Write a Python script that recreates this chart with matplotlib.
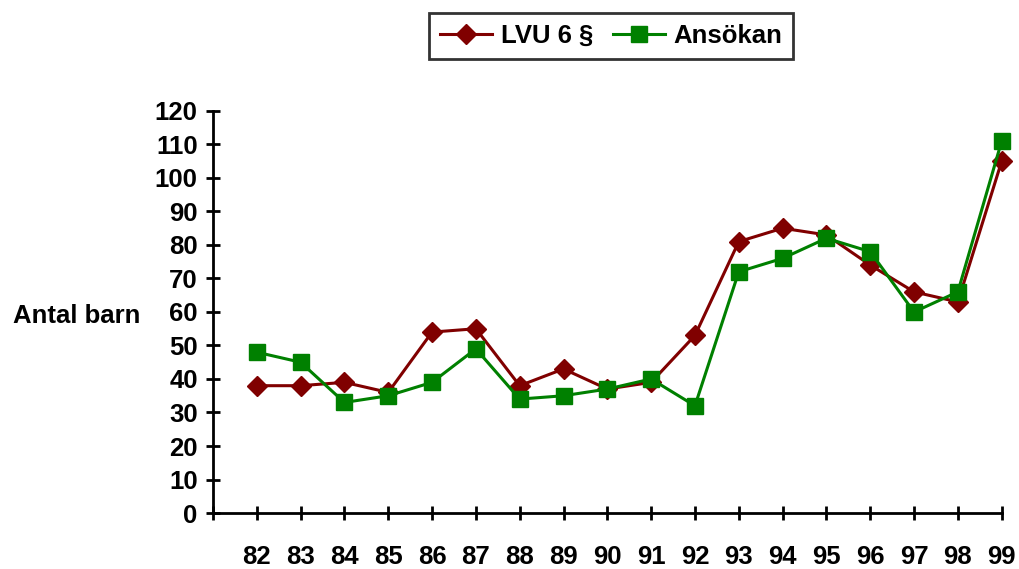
import matplotlib.pyplot as plt
import numpy as np

years = ['82', '83', '84', '85', '86', '87', '88', '89', '90',
         '91', '92', '93', '94', '95', '96', '97', '98', '99']
lvu = [38, 38, 39, 36, 54, 55, 38, 43, 37, 39, 53, 81, 85, 83, 74, 66, 63, 105]
ansokan = [48, 45, 33, 35, 39, 49, 34, 35, 37, 40, 32, 72, 76, 82, 78, 60, 66, 111]

plt.rcParams['font.family'] = ['Liberation Sans', 'DejaVu Sans']
plt.rcParams['font.weight'] = 'bold'
fs = 18.5

fig = plt.figure(figsize=(10.19, 5.69), dpi=100)
ax = fig.add_axes([0.209, 0.0984, 0.774, 0.7066])

x = np.arange(len(years))
ax.plot(x, lvu, color='#800000', marker='D', markersize=10, linewidth=2.2,
        label='LVU 6 §', clip_on=False, zorder=3)
ax.plot(x, ansokan, color='#008000', marker='s', markersize=11.5, linewidth=2.2,
        label='Ansökan', clip_on=False, zorder=4)

ax.set_xlim(-1, len(years) - 1)
ax.set_ylim(0, 120)
ax.set_yticks(range(0, 121, 10))
ax.set_xticks(np.arange(-1, len(years)))
ax.set_xticklabels([''] + years)

for side in ['top', 'right']:
    ax.spines[side].set_visible(False)
for side in ['left', 'bottom']:
    ax.spines[side].set_linewidth(2)
    ax.spines[side].set_color('black')

ax.tick_params(axis='both', direction='inout', length=10, width=2, labelsize=fs)
ax.tick_params(axis='x', pad=18)
ax.tick_params(axis='y', pad=6)
for lbl in ax.get_xticklabels() + ax.get_yticklabels():
    lbl.set_fontweight('bold')

ax.set_ylabel('Antal barn', rotation=0, fontsize=fs, fontweight='bold', ha='right', va='center')
ax.yaxis.set_label_coords(-0.092, 0.49)

leg = fig.legend(loc='center', bbox_to_anchor=(0.6, 0.937), ncol=2, frameon=True,
                 fancybox=False, edgecolor='black', fontsize=fs, handlelength=2.0,
                 columnspacing=0.8, handletextpad=0.35, borderpad=0.42)
leg.get_frame().set_linewidth(2)
for t in leg.get_texts():
    t.set_fontweight('bold')

fig.savefig('out.png', dpi=100)
